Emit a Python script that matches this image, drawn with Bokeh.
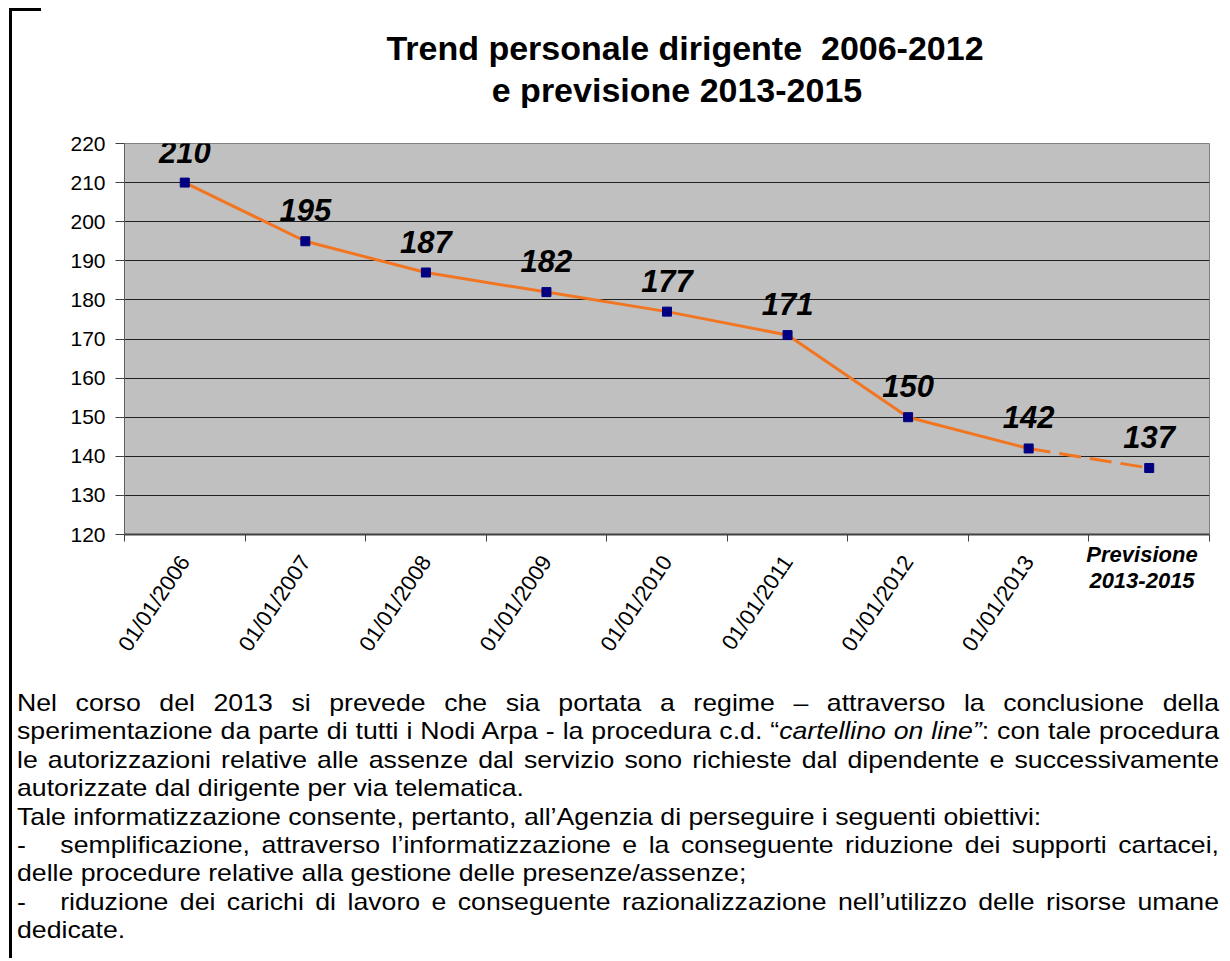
from bokeh.plotting import figure
from bokeh.models import (ColumnDataSource, FixedTicker, Range1d, LabelSet, Div)
from bokeh.core.properties import value
from bokeh.layouts import column
from bokeh.embed import file_html
from bokeh.resources import INLINE

# ---------------- data ----------------
categories = ["01/01/2006", "01/01/2007", "01/01/2008", "01/01/2009", "01/01/2010",
              "01/01/2011", "01/01/2012", "01/01/2013", "Previsione 2013-2015"]
values = [210, 195, 187, 182, 177, 171, 150, 142, 137]
n_observed = 8          # points joined by the solid line
y_ticks = [120, 130, 140, 150, 160, 170, 180, 190, 200, 210, 220]
title_lines = ["Trend personale dirigente  2006-2012", "e previsione 2013-2015"]
forecast_label = ["Previsione", "2013-2015"]

paragraph = [
    ("Nel corso del 2013 si prevede che sia portata a regime \u2013 attraverso la conclusione della", True),
    ("sperimentazione da parte di tutti i Nodi Arpa - la procedura c.d. \u201c<i>cartellino on line\u201d</i>: con tale procedura", True),
    ("le autorizzazioni relative alle assenze dal servizio sono richieste dal dipendente e successivamente", True),
    ("autorizzate dal dirigente per via telematica.", False),
    ("Tale informatizzazione consente, pertanto, all\u2019Agenzia di perseguire i seguenti obiettivi:", False),
    ("-&nbsp;&nbsp; semplificazione, attraverso l\u2019informatizzazione e la conseguente riduzione dei supporti cartacei,", True),
    ("delle procedure relative alla gestione delle presenze/assenze;", False),
    ("-&nbsp;&nbsp; riduzione dei carichi di lavoro e conseguente razionalizzazione nell\u2019utilizzo delle risorse umane", True),
    ("dedicate.", False),
]

# ---------------- styles ----------------
FONT = "Liberation Sans"
CSS_FONT = "'Liberation Sans',Arial,sans-serif"
ORANGE = "#F27522"
NAVY = "#000080"

xc = [i + 0.5 for i in range(len(categories))]

# ---------------- title ----------------
title_pads = [151, 135]
title_rows = "".join(
    f'<div style="width:1195px;padding-left:{pad}px;box-sizing:border-box;'
    f'text-align:center;white-space:pre;">{line}</div>'
    for line, pad in zip(title_lines, title_pads))
title_div = Div(text=(f'<div style="padding-top:19px;font-family:{CSS_FONT};font-size:34px;'
                      'font-weight:bold;line-height:42px;color:#000;">' + title_rows + "</div>"),
                width=1210, height=100, margin=0, styles={"overflow": "hidden"})

# ---------------- chart ----------------
p = figure(width=1210, height=576, output_backend="svg", toolbar_location=None,
           x_range=Range1d(0, len(categories)), y_range=Range1d(y_ticks[0], y_ticks[-1]),
           min_border_left=112, min_border_right=13, min_border_top=35,
           min_border_bottom=150)
p.background_fill_color = "#C0C0C0"
p.border_fill_color = None
p.outline_line_color = "#808080"
p.outline_line_width = 1

# x axis
xa = p.xaxis[0]
xa.ticker = FixedTicker(ticks=xc, minor_ticks=list(range(len(categories) + 1)))
overrides = {x: c for x, c in zip(xc, categories)}
overrides[xc[-1]] = ""
xa.major_label_overrides = overrides
xa.major_label_orientation = 56 * 3.141592653589793 / 180
xa.major_label_text_font = FONT
xa.major_label_text_font_size = "22px"
xa.major_label_text_color = "#000000"
xa.major_tick_line_color = None
xa.major_tick_out = 0
xa.major_tick_in = 0
xa.major_label_standoff = 16
xa.minor_tick_line_color = "#404040"
xa.minor_tick_out = 7
xa.minor_tick_in = 0
xa.axis_line_color = "#404040"
xa.axis_line_width = 2

# y axis
ya = p.yaxis[0]
ya.ticker = FixedTicker(ticks=y_ticks)
ya.major_label_text_font = FONT
ya.major_label_text_font_size = "21px"
ya.major_label_text_color = "#000000"
ya.major_tick_out = 9
ya.major_tick_in = 0
ya.major_tick_line_color = "#404040"
ya.minor_tick_line_color = None
ya.axis_line_color = "#606060"
ya.major_label_standoff = 10

p.xgrid.visible = False
p.ygrid.ticker = FixedTicker(ticks=y_ticks)
p.ygrid.grid_line_color = "#202020"
p.ygrid.grid_line_width = 1

# series
p.line(xc[:n_observed], values[:n_observed], line_color=ORANGE, line_width=3)
p.line(xc[n_observed - 1:], values[n_observed - 1:], line_color=ORANGE, line_width=3,
       line_dash="22 9")
p.scatter(xc, values, marker="square", size=9, fill_color=NAVY, line_color=NAVY)

src = ColumnDataSource(dict(x=xc, y=values, t=[str(v) for v in values]))
p.add_layout(LabelSet(x="x", y="y", text="t", source=src, text_align="center",
                      text_baseline="middle", y_offset=31, text_font=value(FONT),
                      text_font_size=value("31px"), text_font_style=value("bold italic"),
                      text_color=value("#000000")))

# category label of the forecast point (horizontal, bold italic), laid over the axis area
fc_html = (f'<div style="width:130px;text-align:center;font-family:{CSS_FONT};'
           'font-size:22px;line-height:26px;font-weight:bold;font-style:italic;color:#000;">'
           + "<br>".join(forecast_label) + "</div>")
fc_div = Div(text=fc_html, width=130, height=56, margin=(-142, 0, 86, 1065))

# ---------------- paragraph ----------------
rows = []
for txt, just in paragraph:
    al = "justify" if just else "left"
    rows.append(f'<div style="text-align:{al};text-align-last:{al};">{txt}</div>')
scale = 1.14
inner_w = 1202
html = (f'<div style="width:{inner_w + 1}px;overflow:hidden;">'
        f'<div style="width:{inner_w / scale:.1f}px;transform:scaleX({scale});'
        f'transform-origin:0 0;font-family:{CSS_FONT};'
        'font-size:23.4px;line-height:28.4px;color:#000;">'
        + "".join(rows) + "</div></div>")
div = Div(text=html, width=1210, height=264, styles={"overflow": "hidden"})

layout = column(title_div, p, fc_div, div,
                styles={"border-left": "3px solid #000", "margin-left": "9px",
                        "margin-top": "8px",
                        "background-image": "linear-gradient(#000,#000)",
                        "background-repeat": "no-repeat",
                        "background-size": "29px 3px"})

open("out.html", "w").write(file_html(layout, INLINE))
